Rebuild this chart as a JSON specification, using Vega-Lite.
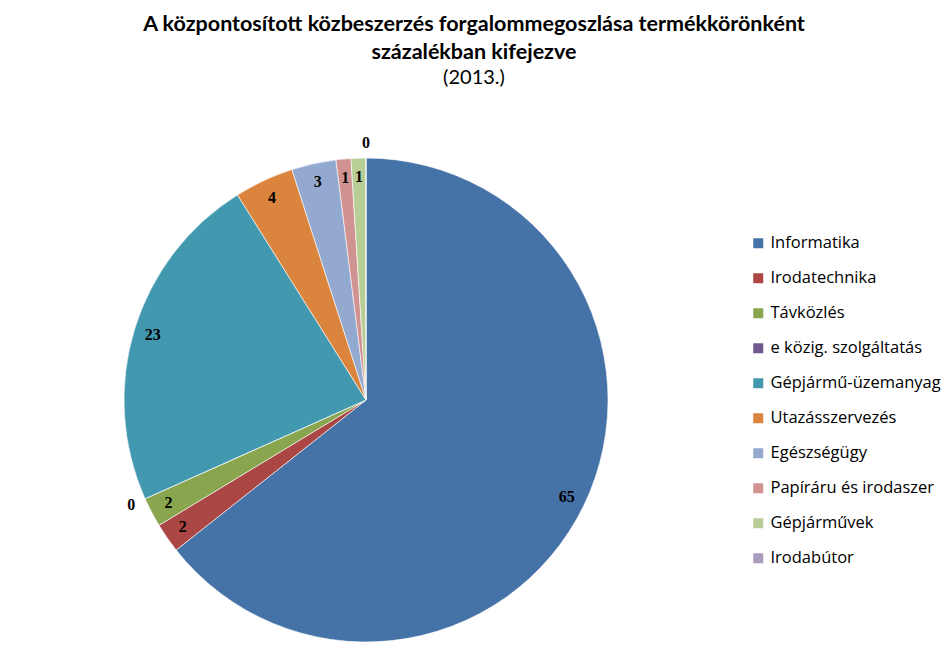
{
  "$schema": "https://vega.github.io/schema/vega-lite/v6.json",
  "width": 484,
  "height": 484,
  "autosize": "none",
  "padding": {"left": 124, "top": 158, "right": 344, "bottom": 14},
  "background": "white",
  "title": {
    "text": ["A  központosított közbeszerzés forgalommegoszlása termékkörönként", "százalékban kifejezve"],
    "subtitle": "(2013.)",
    "anchor": "middle",
    "dx": 108,
    "offset": 47,
    "font": "Lato",
    "fontSize": 21.5,
    "fontWeight": "bold",
    "color": "#000000",
    "lineHeight": 28,
    "subtitleFont": "Lato",
    "subtitleFontSize": 20,
    "subtitleColor": "#000000",
    "subtitlePadding": 5
  },
  "data": {
    "values": [
      {"termekkor": "Informatika", "szazalek": 65},
      {"termekkor": "Irodatechnika", "szazalek": 2},
      {"termekkor": "Távközlés", "szazalek": 2},
      {"termekkor": "e közig. szolgáltatás", "szazalek": 0},
      {"termekkor": "Gépjármű-üzemanyag", "szazalek": 23},
      {"termekkor": "Utazásszervezés", "szazalek": 4},
      {"termekkor": "Egészségügy", "szazalek": 3},
      {"termekkor": "Papíráru és irodaszer", "szazalek": 1},
      {"termekkor": "Gépjárművek", "szazalek": 1},
      {"termekkor": "Irodabútor", "szazalek": 0}
    ]
  },
  "transform": [
    {"window": [{"op": "row_number", "as": "sorrend"}]}
  ],
  "encoding": {
    "theta": {"field": "szazalek", "type": "quantitative", "stack": true},
    "order": {"field": "sorrend", "type": "quantitative"}
  },
  "layer": [
    {
      "mark": {"type": "arc", "stroke": "#ffffff", "strokeWidth": 0.6},
      "encoding": {
        "color": {
          "field": "termekkor",
          "type": "nominal",
          "sort": ["Informatika", "Irodatechnika", "Távközlés", "e közig. szolgáltatás", "Gépjármű-üzemanyag", "Utazásszervezés", "Egészségügy", "Papíráru és irodaszer", "Gépjárművek", "Irodabútor"],
          "scale": {
            "domain": ["Informatika", "Irodatechnika", "Távközlés", "e közig. szolgáltatás", "Gépjármű-üzemanyag", "Utazásszervezés", "Egészségügy", "Papíráru és irodaszer", "Gépjárművek", "Irodabútor"],
            "range": ["#4572A7", "#AA4643", "#89A54E", "#71588F", "#4198AF", "#DB843D", "#93A9CF", "#D19392", "#B9CD96", "#A99BBD"]
          },
          "legend": {
            "title": null,
            "orient": "none",
            "legendX": 626,
            "legendY": 77,
            "symbolType": "square",
            "symbolSize": 100,
            "symbolStrokeWidth": 0,
            "labelFont": "Open Sans",
            "labelFontSize": 16.5,
            "labelColor": "#000000",
            "labelLimit": 300,
            "labelOffset": 4,
            "rowPadding": 18
          }
        }
      }
    },
    {
      "mark": {"type": "text", "radius": 223, "font": "Liberation Serif", "fontSize": 16, "fontWeight": "bold", "color": "#000000"},
      "encoding": {
        "text": {"condition": {"test": "datum.szazalek > 0", "field": "szazalek", "type": "quantitative"}, "value": ""}
      }
    },
    {
      "mark": {"type": "text", "radius": 257, "font": "Liberation Serif", "fontSize": 16, "fontWeight": "bold", "color": "#000000"},
      "encoding": {
        "text": {"condition": {"test": "datum.szazalek == 0", "field": "szazalek", "type": "quantitative"}, "value": ""}
      }
    }
  ]
}
